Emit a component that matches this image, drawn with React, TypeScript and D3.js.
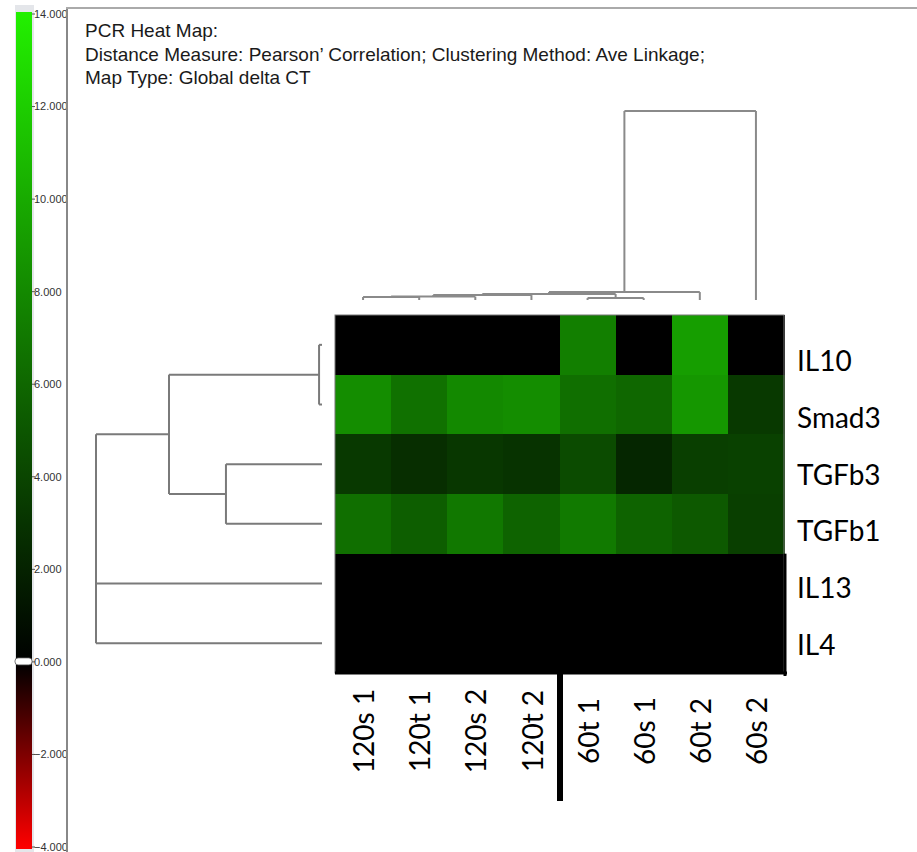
import React from "react";
import * as d3 from "d3";

// heat map layout data
const columns = ["120s 1", "120t 1", "120s 2", "120t 2", "60t 1", "60s 1", "60t 2", "60s 2"];
const rows = ["IL10", "Smad3", "TGFb3", "TGFb1", "IL13", "IL4"];

// global delta CT per row (same order as columns)
const il10 = [0, 0, 0, 0, 7.4, 0, 9.2, 0];
const smad3 = [8.2, 6.6, 8.0, 8.2, 6.5, 6.0, 8.8, 3.3];
const tgfb3 = [3.3, 2.7, 3.2, 3.0, 4.4, 2.2, 3.7, 3.8];
const tgfb1 = [6.5, 5.5, 7.0, 5.8, 7.1, 5.8, 5.2, 3.7];
const il13 = [0, 0, 0, 0, 0, 0, 0, 0];
const il4 = [0, 0, 0, 0, 0, 0, 0, 0];
const values = [il10, smad3, tgfb3, tgfb1, il13, il4];

const legendTicks = [-4, -2, 0, 2, 4, 6, 8, 10, 12, 14];

const titleLines = [
  "PCR Heat Map:",
  "Distance Measure: Pearson\u2019 Correlation; Clustering Method: Ave Linkage;",
  "Map Type: Global delta CT",
];

// clustering trees, h = merge distance (0..1)
const colTree = {
  h: 1,
  children: [
    {
      h: 0.042,
      children: [
        {
          h: 0.032,
          children: [
            {
              h: 0.026,
              children: [
                {
                  h: 0.018,
                  children: [
                    { h: 0.016, children: [{ name: "120s 1" }, { name: "120t 1" }] },
                    { name: "120s 2" },
                  ],
                },
                { name: "120t 2" },
              ],
            },
            { h: 0.01, children: [{ name: "60t 1" }, { name: "60s 1" }] },
          ],
        },
        { name: "60t 2" },
      ],
    },
    { name: "60s 2" },
  ],
};

const rowTree = {
  h: 1,
  children: [
    {
      h: 0.677,
      children: [
        { h: 0.013, children: [{ name: "IL10" }, { name: "Smad3" }] },
        { h: 0.425, children: [{ name: "TGFb3" }, { name: "TGFb1" }] },
      ],
    },
    { name: "IL13" },
    { name: "IL4" },
  ],
};

const LABEL_FONT = "Lato, 'Open Sans', sans-serif";
const TEXT_FONT = "'Liberation Sans', Arial, sans-serif";

// returns elbow segments for a dendrogram
function dendroSegments(tree: any, leafPos: (n: string) => number, hPos: (h: number) => number) {
  const root = d3.hierarchy(tree);
  root.eachAfter((n: any) => {
    n.p = n.children
      ? (n.children[0].p + n.children[n.children.length - 1].p) / 2
      : leafPos(n.data.name);
    n.hh = hPos(n.data.h ?? 0);
  });
  const segs: { a: number; b: number; c: number; d: number }[] = [];
  root.each((n: any) => {
    if (n.parent) segs.push({ a: n.p, b: n.hh, c: n.p, d: n.parent.hh });
    if (n.children) {
      const first = n.children[0].p;
      const last = n.children[n.children.length - 1].p;
      segs.push({ a: first, b: n.hh, c: last, d: n.hh });
    }
  });
  return segs;
}

export default function App() {
  const W = 917;
  const H = 852;

  const x = d3.scaleBand().domain(columns).range([335, 784]);
  const y = d3.scaleBand().domain(rows).range([315, 673]);
  const rowLabelY = d3.scalePoint().domain(rows).range([361, 645]);

  const color = d3
    .scaleLinear<string>()
    .domain([-4, 0, 14])
    .range(["#ff0000", "#000000", "#22f000"])
    .clamp(true);

  const legendY = d3.scaleLinear().domain([-4, 14]).range([847, 14]);

  const colH = d3.scaleLinear().domain([0, 1]).range([300, 111]);
  const rowH = d3.scaleLinear().domain([0, 1]).range([322, 96]);

  const colSegs = dendroSegments(colTree, (n) => x(n)! + x.bandwidth() / 2, colH);
  const rowSegs = dendroSegments(rowTree, (n) => y(n)! + y.bandwidth() / 2, rowH);

  // stops from top (14) to bottom (-4), offsets ascending
  const gradStops = d3.range(14, -4.01, -1).map((v) => ({
    offset: (legendY(v) - legendY(14)) / (legendY(-4) - legendY(14)),
    col: color(v),
  }));

  return (
    <svg
      width={W}
      height={H}
      style={{ position: "absolute", left: 0, top: 0, background: "#fff" }}
    >
      <defs>
        <linearGradient id="legendGrad" x1="0" y1="0" x2="0" y2="1">
          {gradStops.map((s, i) => (
            <stop key={i} offset={s.offset} stopColor={s.col} />
          ))}
        </linearGradient>
      </defs>

      {/* colour legend */}
      <rect x={15} y={5} width={19} height={847} fill="#e4e6ea" />
      <rect
        x={16}
        y={legendY(14) - 2}
        width={16}
        height={legendY(-4) - legendY(14) + 4}
        fill="url(#legendGrad)"
      />
      <rect x={15} y={legendY(0) - 4} width={17} height={7} rx={3} fill="#fff" stroke="#555" strokeWidth={0.8} />
      {legendTicks.map((t) => (
        <g key={t} transform={`translate(32,${legendY(t)})`}>
          <line x1={0} x2={3} stroke="#555" />
          <text
            x={2}
            dy="0.35em"
            fontSize={11}
            fontFamily={TEXT_FONT}
            fill="#333"
          >
            {d3.format(".3f")(t)}
          </text>
        </g>
      ))}

      {/* frame */}
      <line x1={67} x2={67} y1={7} y2={852} stroke="#888" strokeWidth={2} />
      <line x1={66} x2={917} y1={8} y2={8} stroke="#aaa" strokeWidth={2} />

      {/* title */}
      {titleLines.map((t, i) => (
        <text key={i} x={85} y={37 + i * 23.5} fontSize={19} fontFamily={TEXT_FONT} fill="#1a1a1a">
          {t}
        </text>
      ))}

      {/* dendrograms */}
      {colSegs.map((s, i) => (
        <line key={"c" + i} x1={s.a} y1={s.b} x2={s.c} y2={s.d} stroke="#8a8a8a" strokeWidth={2} />
      ))}
      {rowSegs.map((s, i) => (
        <line key={"r" + i} x1={s.b} y1={s.a} x2={s.d} y2={s.c} stroke="#7a7a7a" strokeWidth={2} />
      ))}

      {/* heat map cells */}
      <g shapeRendering="crispEdges">
        {rows.map((r, ri) =>
          columns.map((c, ci) => (
            <rect
              key={r + c}
              x={x(c)}
              y={y(r)}
              width={x.bandwidth() + 1}
              height={y.bandwidth() + 1}
              fill={color(values[ri][ci])}
            />
          ))
        )}
      </g>
      <rect
        x={335}
        y={315}
        width={784 - 335}
        height={673 - 315}
        fill="none"
        stroke="#777"
        strokeWidth={1}
      />
      <line x1={335} x2={787} y1={673} y2={673} stroke="#000" strokeWidth={3} />
      <line x1={785} x2={785} y1={y("IL13")!} y2={676} stroke="#000" strokeWidth={3} />
      <line x1={560} x2={560} y1={673} y2={801} stroke="#000" strokeWidth={6} />

      {/* row labels */}
      {rows.map((r) => (
        <text
          key={r}
          x={797}
          y={rowLabelY(r)}
          dy="0.36em"
          fontSize={28}
          fontFamily={LABEL_FONT}
          fill="#000"
        >
          {r}
        </text>
      ))}

      {/* column labels */}
      {columns.map((c) => (
        <text
          key={c}
          transform={`translate(${x(c)! + x.bandwidth() / 2 + 1},731) rotate(-90)`}
          textAnchor="middle"
          dy="0.36em"
          fontSize={28}
          fontFamily={LABEL_FONT}
          fill="#000"
        >
          {c}
        </text>
      ))}
    </svg>
  );
}
